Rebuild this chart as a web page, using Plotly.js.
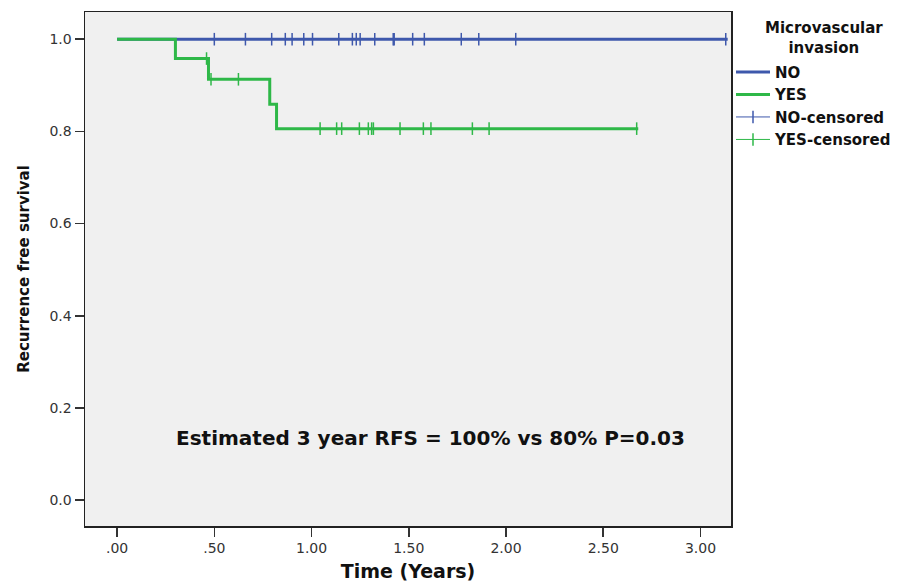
<!DOCTYPE html>
<html>
<head>
<meta charset="utf-8">
<script src="https://cdn.plot.ly/plotly-3.0.1.min.js"></script>
<style>html,body{margin:0;padding:0;background:#fff;}#chart{width:915px;height:582px;}</style>
</head>
<body>
<div id="chart"></div>
<script>
// Step curves (Kaplan-Meier)
const noTimes = [0, 3.14];
const noSurv = [1.0, 1.0];
const yesTimes = [0, 0.30, 0.47, 0.785, 0.82, 2.68];
const yesSurv = [1.0, 0.958, 0.913, 0.859, 0.806, 0.806];
// Censored observations
const noCensTimes = [0.50, 0.66, 0.795, 0.865, 0.90, 0.96, 1.005, 1.14, 1.21, 1.23, 1.25, 1.325, 1.42, 1.425, 1.52, 1.58, 1.77, 1.86, 2.05, 3.13];
const noCensSurv = noCensTimes.map(() => 1.0);
const yesCensTimes = [0.46, 0.483, 0.624, 1.044, 1.129, 1.155, 1.246, 1.292, 1.309, 1.318, 1.455, 1.575, 1.614, 1.827, 1.913, 2.672];
const yesCensSurv = [0.958, 0.913, 0.913, 0.806, 0.806, 0.806, 0.806, 0.806, 0.806, 0.806, 0.806, 0.806, 0.806, 0.806, 0.806, 0.806];
const xTickVals = [0, 0.5, 1, 1.5, 2, 2.5, 3];
const xTickText = ['.00', '.50', '1.00', '1.50', '2.00', '2.50', '3.00'];
const yTickVals = [0, 0.2, 0.4, 0.6, 0.8, 1.0];
const yTickText = ['0.0', '0.2', '0.4', '0.6', '0.8', '1.0'];

const blue = '#3E58AC';
const green = '#2EB848';
const FONT = 'DejaVu Sans, Liberation Sans, Arial, sans-serif';

function gapped(xs, ys) {
  const gx = [], gy = [];
  xs.forEach((v, i) => { gx.push(v); gy.push(ys[i]); gx.push(v); gy.push(null); });
  return {x: gx, y: gy};
}
const nc = gapped(noCensTimes, noCensSurv);
const yc = gapped(yesCensTimes, yesCensSurv);

const traces = [
  {x: noTimes, y: noSurv, name: '<b>NO</b>', mode: 'lines', line: {color: blue, width: 3, shape: 'hv'}, hoverinfo: 'skip'},
  {x: yesTimes, y: yesSurv, name: '<b>YES</b>', mode: 'lines', line: {color: green, width: 3, shape: 'hv'}, hoverinfo: 'skip'},
  {x: nc.x, y: nc.y, name: '<b>NO-censored</b>', mode: 'lines+markers', connectgaps: false,
   line: {color: blue, width: 1}, marker: {symbol: 'line-ns-open', size: 9, color: blue, line: {color: blue, width: 1.5}}},
  {x: yc.x, y: yc.y, name: '<b>YES-censored</b>', mode: 'lines+markers', connectgaps: false,
   line: {color: green, width: 1}, marker: {symbol: 'line-ns-open', size: 9, color: green, line: {color: green, width: 1.5}}}
];

const layout = {
  width: 915, height: 582,
  margin: {l: 85, r: 184, t: 12, b: 56},
  paper_bgcolor: '#ffffff',
  plot_bgcolor: '#f0f0f0',
  font: {family: FONT, color: '#222'},
  showlegend: true,
  xaxis: {
    range: [-0.165, 3.157], tickvals: xTickVals, ticktext: xTickText,
    showgrid: false, zeroline: false, showline: true, mirror: true, linecolor: '#222', linewidth: 1.5,
    ticks: 'outside', ticklen: 9, tickwidth: 1.5, tickcolor: '#333',
    tickfont: {size: 14, color: '#333', family: FONT},
    title: {text: '<b>Time (Years)</b>', font: {size: 19, color: '#111', family: FONT}, standoff: 10}
  },
  yaxis: {
    range: [-0.056, 1.059], tickvals: yTickVals, ticktext: yTickText,
    showgrid: false, zeroline: false, showline: true, mirror: true, linecolor: '#222', linewidth: 1.5,
    ticks: 'outside', ticklen: 9, tickwidth: 1.5, tickcolor: '#333',
    tickfont: {size: 14, color: '#333', family: FONT},
    title: {text: '<b>Recurrence free survival</b>', font: {size: 15, color: '#111', family: FONT}, standoff: 16}
  },
  legend: {
    x: 1.0, xanchor: 'left', y: 0.915, yanchor: 'top',
    bgcolor: 'rgba(0,0,0,0)',
    font: {size: 15, color: '#111', family: FONT},
    tracegroupgap: 0, itemwidth: 34
  },
  annotations: [
    {
      x: 1.61, y: 0.135, xref: 'x', yref: 'y', showarrow: false,
      text: '<b>Estimated 3 year RFS = 100% vs 80% P=0.03</b>',
      font: {size: 20, color: '#111', family: FONT}
    },
    {
      x: 1.144, y: 0.95, xref: 'paper', yref: 'paper', xanchor: 'center', yanchor: 'middle', showarrow: false,
      align: 'center',
      text: '<b>Microvascular<br>invasion</b>',
      font: {size: 15, color: '#111', family: FONT}
    }
  ]
};

Plotly.newPlot('chart', traces, layout, {displayModeBar: false, staticPlot: true});
</script>
</body>
</html>
